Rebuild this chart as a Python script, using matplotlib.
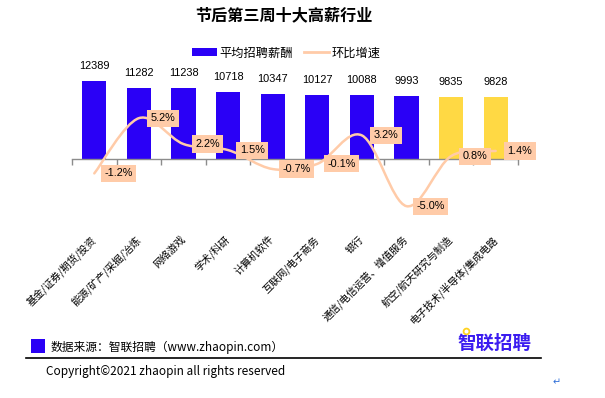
import numpy as np
import matplotlib
matplotlib.use('Agg')
import matplotlib.pyplot as plt
from matplotlib.path import Path
from matplotlib.patches import PathPatch, Rectangle, Patch
from matplotlib.lines import Line2D

plt.rcParams['font.family'] = ['Noto Sans CJK SC', 'DejaVu Sans']

# ---------------- data ----------------
title = '节后第三周十大高薪行业'
categories = ['基金/证券/期货/投资', '能源/矿产/采掘/冶炼', '网络游戏', '学术/科研',
              '计算机软件', '互联网/电子商务', '银行', '通信/电信运营、增值服务',
              '航空/航天研究与制造', '电子技术/半导体/集成电路']
salary = [12389, 11282, 11238, 10718, 10347, 10127, 10088, 9993, 9835, 9828]
growth = [-1.2, 5.2, 2.2, 1.5, -0.7, -0.1, 3.2, -5.0, 0.8, 1.4]
highlight = [False, False, False, False, False, False, False, False, True, True]
series_names = ['平均招聘薪酬', '环比增速']
source_text = '数据来源：智联招聘（www.zhaopin.com）'
copyright_text = 'Copyright©2021 zhaopin all rights reserved'
logo_text = '智联招聘'

# ---------------- style ----------------
BLUE = '#2A00F6'
YELLOW = '#FFD944'
PEACH = '#FFCBA8'
GRAY = '#8C8C8C'
NUMFONT = ['Liberation Sans', 'DejaVu Sans']

W, H = 605, 398
fig = plt.figure(figsize=(W / 100, H / 100), dpi=100)


def fx(px):
    return px / W


def fy(py):
    return 1 - py / H


ax = fig.add_axes([fx(72), fy(228), fx(518) - fx(72), fy(70) - fy(228)])
n = len(categories)
x = np.arange(n)
colors = [YELLOW if h else BLUE for h in highlight]
ax.bar(x, salary, width=0.54, color=colors, zorder=2)
ax.set_xlim(-0.5, n - 0.5)
ax.set_ylim(-10959, 14136)

for s in ['left', 'right', 'bottom']:
    ax.spines[s].set_visible(False)
ax.spines['top'].set_position(('data', 0))
ax.spines['top'].set_color(GRAY)
ax.spines['top'].set_linewidth(1)
ax.spines['top'].set_zorder(3)
ax.set_yticks([])
ax.set_xticks(x)
ax.set_xticklabels(categories, fontsize=7.3)
ax.set_xticks(np.arange(n + 1) - 0.5, minor=True)
ax.tick_params(axis='x', which='major', length=0, pad=7, bottom=True, top=False,
               labelbottom=True, labeltop=False)
ax.tick_params(axis='x', which='minor', top=True, bottom=False, direction='in',
               length=4, color=GRAY, width=1)
plt.setp(ax.get_xticklabels(), rotation=45, ha='right', va='center',
         rotation_mode='anchor')

for xi, v in zip(x, salary):
    ax.annotate(str(v), (xi, v), xytext=(0, 10.8), textcoords='offset points',
                ha='center', va='center', fontsize=7.9, family=NUMFONT)

# secondary axis: smoothed growth line
ax2 = ax.twinx()
ax2.set_ylim(-7.53, 10.78)
for s in ax2.spines.values():
    s.set_visible(False)
ax2.set_yticks([])

pts = np.column_stack([x, growth]).astype(float)
verts = [tuple(pts[0])]
codes = [Path.MOVETO]
for i in range(n - 1):
    p0 = pts[i - 1] if i > 0 else pts[i]
    p1 = pts[i]
    p2 = pts[i + 1]
    p3 = pts[i + 2] if i + 2 < n else pts[i + 1]
    c1 = p1 + (p2 - p0) / 6.0
    c2 = p2 - (p3 - p1) / 6.0
    verts += [tuple(c1), tuple(c2), tuple(p2)]
    codes += [Path.CURVE4] * 3
ax2.add_patch(PathPatch(Path(verts, codes), fill=False, edgecolor=PEACH,
                        lw=1.8, capstyle='round', zorder=3))

for xi, g in zip(x, growth):
    ax2.annotate(f'{g:.1f}%', (xi, g), xytext=(17.3, 0), textcoords='offset points',
                 ha='center', va='center', fontsize=7.8, family=NUMFONT, zorder=5,
                 bbox=dict(boxstyle='square,pad=0.33', fc=PEACH, ec='none'))

# title & legend
fig.text(fx(284), fy(15), title, fontsize=11.6, fontweight='bold',
         ha='center', va='center')
handles = [Patch(facecolor=BLUE, edgecolor='none'),
           Line2D([], [], color=PEACH, lw=2)]
fig.legend(handles, series_names, loc='center', bbox_to_anchor=(fx(286), fy(53)),
           ncol=2, frameon=False, fontsize=8.8, handlelength=2.1, handleheight=0.57,
           handletextpad=0.15, columnspacing=0.9, borderpad=0, borderaxespad=0)

# footer
fig.add_artist(Rectangle((fx(31), fy(353)), 14 / W, 14 / H, transform=fig.transFigure,
                         facecolor=BLUE, edgecolor='none'))
fig.text(fx(51), fy(347), source_text, fontsize=8.5, ha='left', va='center')
fig.add_artist(Line2D([fx(26), fx(541)], [fy(358), fy(358)], color='black', lw=1.2,
                      transform=fig.transFigure))
fig.text(fx(46), fy(371), copyright_text, fontsize=8.5, ha='left', va='center')
fig.text(fx(494), fy(343), logo_text, fontsize=13.3, fontweight='bold',
         color='#3B1CF0', ha='center', va='center')
fig.add_artist(Line2D([fx(466)], [fy(331)], marker='o', markersize=4.2,
                      markerfacecolor='white', markeredgecolor='#FFD21F',
                      markeredgewidth=1.3, transform=fig.transFigure))
fig.text(fx(557), fy(382), '↵', fontsize=7, color='#2F6FD8', ha='center', va='center',
         family=['DejaVu Sans'])

fig.savefig('out.png', dpi=100)
